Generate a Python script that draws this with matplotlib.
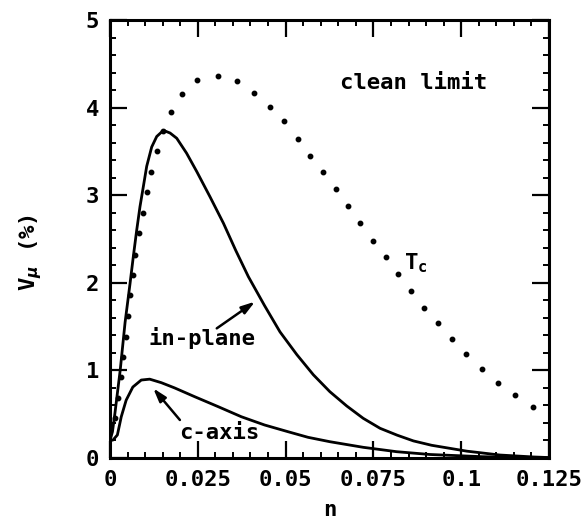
import numpy as np
import matplotlib
matplotlib.use("Agg")
import matplotlib.pyplot as plt
from matplotlib.ticker import MultipleLocator

# in-plane (solid)
inplane_n = [0, 0.0007, 0.0014, 0.0029, 0.0043, 0.0057, 0.00664, 0.0076, 0.00854,
             0.0095, 0.01045, 0.01187, 0.0133, 0.0152, 0.0171, 0.0190, 0.0218,
             0.0247, 0.0285, 0.0323, 0.0358, 0.0394, 0.0440, 0.0484, 0.0532,
             0.0579, 0.0626, 0.0674, 0.0721, 0.0769, 0.0818, 0.0864, 0.0916,
             0.1016, 0.111, 0.1205, 0.125]
inplane_v = [0.2, 0.30, 0.51, 1.0, 1.55, 1.99, 2.30, 2.60, 2.87,
             3.10, 3.33, 3.55, 3.67, 3.74, 3.71, 3.65, 3.48,
             3.27, 2.98, 2.68, 2.37, 2.07, 1.74, 1.44, 1.18,
             0.95, 0.757, 0.594, 0.453, 0.339, 0.26, 0.195, 0.145,
             0.078, 0.034, 0.012, 0.005]

# c-axis (solid)
caxis_n = [0, 0.00085, 0.0021, 0.0032, 0.0046, 0.0065, 0.0089, 0.0113, 0.0146,
           0.0184, 0.0241, 0.0308, 0.0374, 0.0440, 0.0507, 0.0564, 0.0626,
           0.0721, 0.0816, 0.0911, 0.106, 0.125]
caxis_v = [0.2, 0.205, 0.263, 0.47, 0.66, 0.81, 0.89, 0.90, 0.86,
           0.80, 0.70, 0.586, 0.471, 0.377, 0.30, 0.236, 0.186,
           0.122, 0.072, 0.040, 0.015, 0.0]

# Tc (dotted)
tc_n = [0.0014, 0.0022, 0.0030, 0.0037, 0.0045, 0.0051, 0.0058, 0.0066, 0.00712,
        0.00834, 0.00931, 0.01045, 0.01167, 0.0133, 0.0152, 0.01737, 0.02059,
        0.02486, 0.03067, 0.03625, 0.0410, 0.04556, 0.04954, 0.05339, 0.05695,
        0.06056, 0.06426, 0.06777, 0.07127, 0.07497, 0.0785, 0.08209, 0.08562,
        0.0895, 0.09339, 0.09738, 0.10137, 0.10592, 0.11048, 0.11541, 0.12036]
tc_v = [0.46, 0.69, 0.92, 1.15, 1.385, 1.62, 1.86, 2.09, 2.317,
        2.568, 2.80, 3.033, 3.268, 3.505, 3.73, 3.946, 4.152,
        4.312, 4.364, 4.30, 4.166, 4.007, 3.847, 3.642, 3.451,
        3.261, 3.071, 2.873, 2.683, 2.481, 2.295, 2.100, 1.906,
        1.716, 1.541, 1.358, 1.184, 1.019, 0.860, 0.719, 0.586]

xticks = [0, 0.025, 0.05, 0.075, 0.1, 0.125]
xticklabels = ["0", "0.025", "0.05", "0.075", "0.1", "0.125"]
yticks = [0, 1, 2, 3, 4, 5]

plt.rcParams['font.family'] = ['DejaVu Sans Mono', 'DejaVu Sans']
plt.rcParams['font.weight'] = 'bold'

fig = plt.figure(figsize=(5.85, 5.2), dpi=100)
ax = fig.add_axes([110/585, 62/520, 439/585, 438/520])

ax.plot(inplane_n, inplane_v, color='black', lw=2.0, solid_joinstyle='round')
ax.plot(caxis_n, caxis_v, color='black', lw=2.0, solid_joinstyle='round')
ax.plot(tc_n, tc_v, linestyle='none', marker='o', ms=3.2, color='black')

ax.set_xlim(0, 0.125)
ax.set_ylim(0, 5)
ax.set_xticks(xticks)
ax.set_xticklabels(xticklabels)
ax.set_yticks(yticks)
ax.xaxis.set_minor_locator(MultipleLocator(0.005))
ax.yaxis.set_minor_locator(MultipleLocator(0.2))
ax.tick_params(which='both', direction='in', top=True, right=True, labelsize=16)
ax.tick_params(which='major', length=12, width=1.6)
ax.tick_params(which='minor', length=4, width=1.4)
ax.tick_params(axis='x', pad=9)
ax.tick_params(axis='y', pad=8)
for s in ax.spines.values():
    s.set_linewidth(2.2)

ax.set_xlabel("n", fontsize=16, fontweight='bold')
ax.xaxis.set_label_coords(0.5, -0.095)
ax.set_ylabel("V$_\\mu$ (%)", fontsize=16, fontweight='bold')
ax.yaxis.set_label_coords(-0.15, 0.47)

ax.text(0.0863, 4.28, "clean limit", fontsize=16, fontweight='bold',
        ha='center', va='center')
ax.text(0.0871, 2.22, "T$_\\mathregular{c}$", fontsize=16, fontweight='bold',
        ha='center', va='center')

arrow = dict(arrowstyle='-|>,head_length=0.8,head_width=0.25', color='black',
             lw=1.8, mutation_scale=10, shrinkA=0, shrinkB=0)
ax.annotate("", xy=(0.0413, 1.785), xytext=(0.0304, 1.48), arrowprops=arrow)
ax.text(0.0263, 1.37, "in-plane", fontsize=16, fontweight='bold',
        ha='center', va='center')

ax.annotate("", xy=(0.0123, 0.796), xytext=(0.0199, 0.434), arrowprops=arrow)
ax.text(0.0310, 0.285, "c-axis", fontsize=16, fontweight='bold',
        ha='center', va='center')

fig.savefig("out.png", dpi=100)
